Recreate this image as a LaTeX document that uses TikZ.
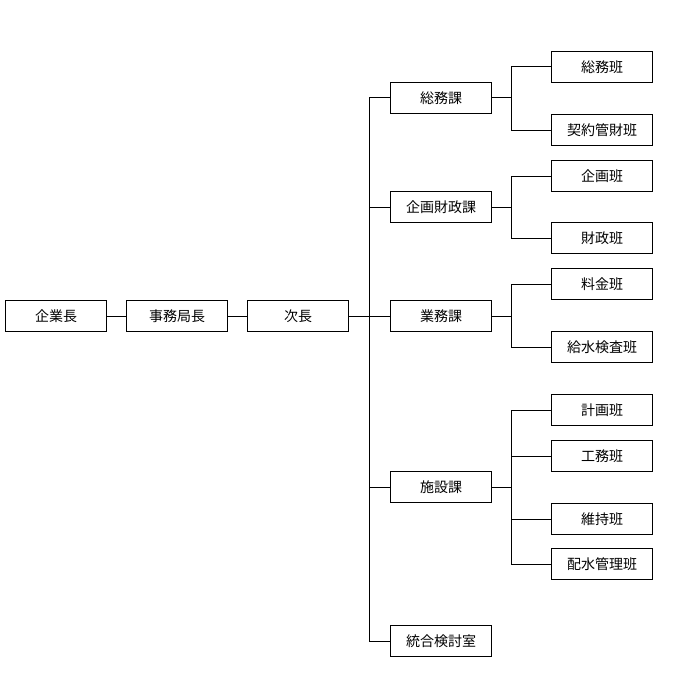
\documentclass[tikz,border=0pt]{standalone}
\usepackage{fontspec}
\setmainfont{Noto Sans CJK JP}
\usepackage{tikz}

\begin{document}
\begin{tikzpicture}[x=1pt, y=-1pt, line width=1pt,
    box/.style={draw, rectangle, minimum width=101pt, minimum height=31pt,
      inner sep=0pt, outer sep=0pt, font=\fontsize{14}{16}\selectfont}]
    \useasboundingbox (0,0) rectangle (680,698);

    % top line
    \node (kigyo) at (56,316) [box] {企業長};
    \node (jimu) at (177,316) [box] {事務局長};
    \node (jicho) at (298,316) [box] {次長};

    % sections
    \node (somuka) at (441,98) [box] {総務課};
    \node (zaiseika) at (441,207) [box] {企画財政課};
    \node (gyomuka) at (441,316) [box] {業務課};
    \node (shisetsuka) at (441,487) [box] {施設課};
    \node (togo) at (441,641) [box] {統合検討室};

    % teams
    \node (somuhan) at (602,67) [box] {総務班};
    \node (keiyakuhan) at (602,130) [box] {契約管財班};
    \node (kikakuhan) at (602,176) [box] {企画班};
    \node (zaiseihan) at (602,238) [box] {財政班};
    \node (ryokinhan) at (602,284) [box] {料金班};
    \node (kyusuihan) at (602,347) [box] {給水検査班};
    \node (keikakuhan) at (602,410) [box] {計画班};
    \node (komuhan) at (602,456) [box] {工務班};
    \node (ijihan) at (602,519) [box] {維持班};
    \node (haisuihan) at (602,564) [box] {配水管理班};

    \draw (kigyo) -- (jimu);
    \draw (jimu) -- (jicho);
    \draw (jicho) -- (gyomuka);
    \draw (somuka.west) -- ++(-21,0) |- (togo.west);
    \draw (zaiseika.west) -- ++(-21,0);
    \draw (shisetsuka.west) -- ++(-21,0);

    \draw (somuhan.west) -- ++(-40,0) |- (keiyakuhan.west);
    \draw (somuka) -- ++(71,0);
    \draw (kikakuhan.west) -- ++(-40,0) |- (zaiseihan.west);
    \draw (zaiseika) -- ++(71,0);
    \draw (ryokinhan.west) -- ++(-40,0) |- (kyusuihan.west);
    \draw (gyomuka) -- ++(71,0);
    \draw (keikakuhan.west) -- ++(-40,0) |- (haisuihan.west);
    \draw (komuhan.west) -- ++(-40,0);
    \draw (ijihan.west) -- ++(-40,0);
    \draw (shisetsuka) -- ++(71,0);
\end{tikzpicture}
\end{document}
